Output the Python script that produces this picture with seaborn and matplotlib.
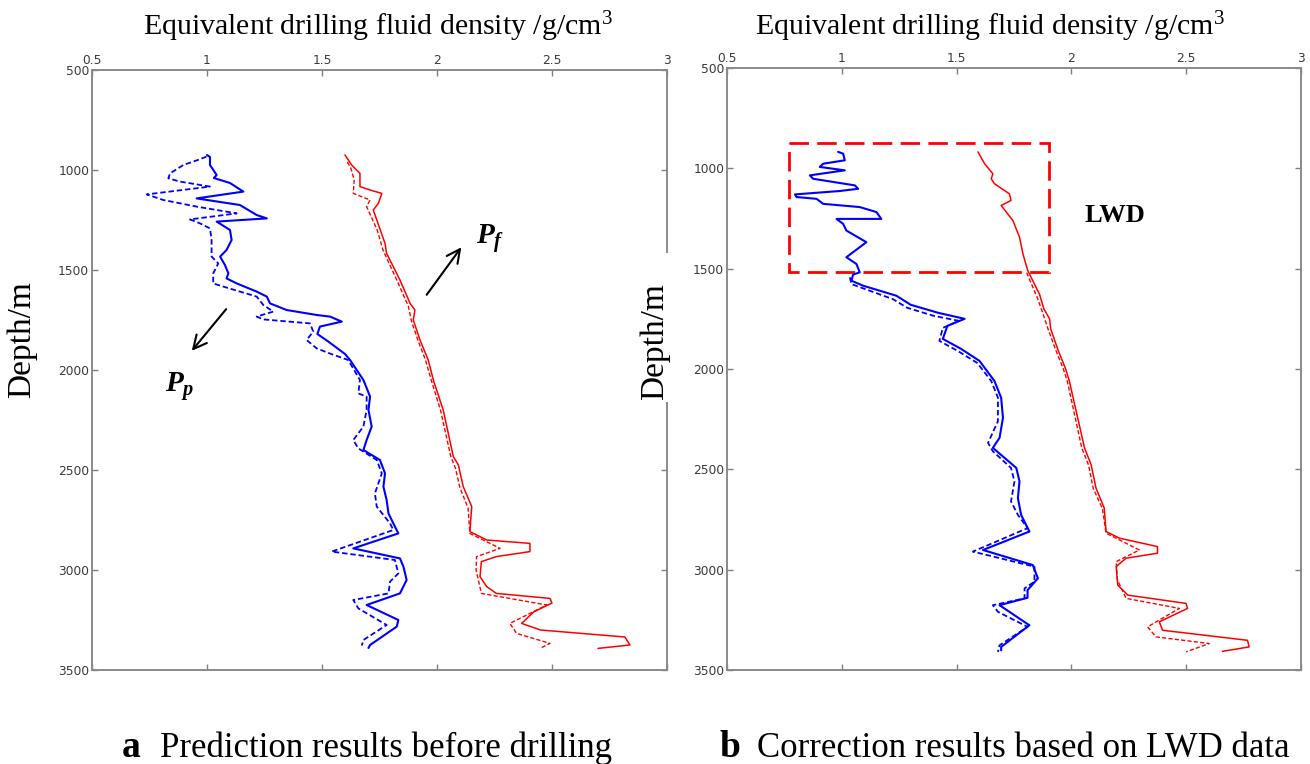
import matplotlib
matplotlib.use("Agg")
import matplotlib.pyplot as plt
from matplotlib.patches import Rectangle
import seaborn as sns
import numpy as np

# ---------------- data ----------------
# Panel a: prediction before drilling
A_PP_SOLID_X = [1.000, 1.013, 1.013, 1.042, 1.030, 1.100, 1.158, 0.955, 1.000, 1.143, 1.216, 1.260, 1.042, 1.100,
                1.107, 1.085, 1.057, 1.078, 1.093, 1.085, 1.129, 1.216, 1.260, 1.274, 1.346, 1.477, 1.535, 1.586,
                1.491, 1.480, 1.530, 1.600, 1.622, 1.680, 1.709, 1.702, 1.716, 1.694, 1.680, 1.752, 1.774, 1.767,
                1.781, 1.789, 1.817, 1.832, 1.636, 1.839, 1.854, 1.868, 1.839, 1.694, 1.832, 1.825, 1.709, 1.702]
A_PP_SOLID_D = [925, 935, 975, 1025, 1040, 1065, 1108, 1142, 1150, 1175, 1225, 1242, 1258, 1300,
                1350, 1400, 1433, 1475, 1517, 1542, 1567, 1608, 1633, 1667, 1700, 1725, 1733, 1758,
                1783, 1820, 1860, 1920, 1950, 2050, 2133, 2200, 2283, 2350, 2400, 2450, 2517, 2583,
                2650, 2717, 2783, 2817, 2892, 2942, 2983, 3050, 3117, 3175, 3250, 3283, 3375, 3390]

A_PP_DASH_X = [0.998, 0.960, 0.897, 0.839, 0.832, 0.883, 1.013, 0.738, 0.810, 0.955, 1.129, 0.926, 0.970, 1.013,
               1.020, 1.020, 1.049, 1.027, 1.027, 1.071, 1.216, 1.245, 1.288, 1.216, 1.245, 1.448, 1.462, 1.433,
               1.477, 1.540, 1.614, 1.665, 1.658, 1.694, 1.694, 1.680, 1.636, 1.658, 1.738, 1.760, 1.730, 1.738,
               1.796, 1.810, 1.542, 1.817, 1.832, 1.796, 1.789, 1.636, 1.658, 1.781, 1.680, 1.673]
A_PP_DASH_D = [933, 950, 975, 1017, 1042, 1058, 1083, 1122, 1150, 1183, 1217, 1247, 1267, 1292,
               1350, 1433, 1467, 1517, 1567, 1583, 1633, 1675, 1708, 1733, 1747, 1767, 1808, 1850,
               1892, 1920, 1950, 2050, 2117, 2133, 2200, 2283, 2350, 2392, 2450, 2517, 2617, 2683,
               2767, 2800, 2908, 2950, 3017, 3058, 3117, 3150, 3192, 3275, 3350, 3378]

A_PF_SOLID_X = [1.600, 1.629, 1.665, 1.665, 1.709, 1.760, 1.745, 1.723, 1.774, 1.781, 1.839, 1.883, 1.904, 1.897,
                1.926, 1.962, 1.984, 2.027, 2.071, 2.093, 2.114, 2.151, 2.143, 2.216, 2.404, 2.404, 2.258, 2.193,
                2.187, 2.216, 2.258, 2.491, 2.500, 2.420, 2.368, 2.450, 2.817, 2.839, 2.700]
A_PF_SOLID_D = [925, 975, 1017, 1083, 1100, 1117, 1167, 1200, 1367, 1417, 1550, 1667, 1700, 1750,
                1850, 1950, 2050, 2200, 2433, 2475, 2583, 2683, 2808, 2850, 2867, 2908, 2933, 2958,
                3033, 3083, 3117, 3142, 3165, 3210, 3267, 3300, 3335, 3375, 3392]

A_PF_DASH_X = [1.610, 1.625, 1.640, 1.636, 1.709, 1.694, 1.740, 1.765, 1.825, 1.875, 1.890, 1.920, 1.950, 1.975,
               2.015, 2.060, 2.080, 2.100, 2.135, 2.143, 2.274, 2.172, 2.170, 2.193, 2.477, 2.317, 2.346, 2.491, 2.448]
A_PF_DASH_D = [960, 990, 1050, 1117, 1150, 1183, 1300, 1400, 1550, 1680, 1760, 1860, 1950, 2050,
               2200, 2433, 2490, 2590, 2690, 2817, 2892, 2933, 3000, 3117, 3175, 3267, 3317, 3367, 3392]

# Panel b: corrected with LWD data
B_PP_SOLID_X = [0.984, 1.006, 1.013, 0.919, 0.904, 1.013, 0.861, 0.875, 1.057, 1.071, 0.991, 0.796, 0.803, 0.890,
                0.919, 1.078, 1.151, 1.172, 0.977, 1.006, 1.020, 1.107, 1.020, 1.064, 1.078, 1.049, 1.042, 1.093,
                1.238, 1.300, 1.420, 1.535, 1.460, 1.440, 1.520, 1.600, 1.665, 1.694, 1.702, 1.687, 1.658, 1.760,
                1.774, 1.767, 1.781, 1.817, 1.615, 1.832, 1.854, 1.809, 1.809, 1.687, 1.817, 1.694, 1.694]
B_PP_SOLID_D = [918, 927, 960, 977, 993, 1010, 1035, 1052, 1085, 1102, 1113, 1130, 1143, 1152,
                1177, 1193, 1218, 1252, 1252, 1277, 1310, 1368, 1443, 1477, 1518, 1530, 1560, 1585,
                1635, 1680, 1720, 1750, 1785, 1850, 1900, 1960, 2060, 2143, 2243, 2343, 2393, 2493,
                2560, 2643, 2727, 2810, 2902, 2977, 3043, 3102, 3140, 3177, 3277, 3385, 3402]

B_PP_DASH_X = [1.035, 1.042, 1.223, 1.285, 1.400, 1.510, 1.440, 1.425, 1.505, 1.590, 1.651, 1.680, 1.680, 1.637,
               1.658, 1.737, 1.752, 1.737, 1.767, 1.809, 1.571, 1.839, 1.839, 1.796, 1.796, 1.658, 1.680, 1.809,
               1.687, 1.680]
B_PP_DASH_D = [1543, 1577, 1652, 1695, 1735, 1760, 1795, 1860, 1910, 1970, 2060, 2143, 2260, 2368,
               2410, 2493, 2560, 2660, 2727, 2793, 2910, 2985, 3060, 3093, 3143, 3177, 3210, 3285,
               3377, 3410]

B_PF_SOLID_X = [1.593, 1.622, 1.658, 1.651, 1.665, 1.730, 1.737, 1.694, 1.745, 1.774, 1.789, 1.810, 1.861, 1.880,
                1.905, 1.910, 1.940, 1.975, 1.991, 2.057, 2.086, 2.107, 2.143, 2.151, 2.209, 2.375, 2.375, 2.238,
                2.195, 2.202, 2.246, 2.499, 2.506, 2.383, 2.397, 2.767, 2.774, 2.658]
B_PF_SOLID_D = [918, 977, 1027, 1052, 1077, 1127, 1160, 1185, 1260, 1343, 1427, 1510, 1627, 1700,
                1750, 1800, 1900, 2000, 2060, 2393, 2477, 2593, 2693, 2810, 2843, 2885, 2918, 2943,
                2985, 3077, 3127, 3168, 3193, 3260, 3302, 3352, 3385, 3407]

B_PF_DASH_X = [1.805, 1.850, 1.875, 1.895, 1.930, 1.965, 1.982, 2.045, 2.075, 2.095, 2.135, 2.151, 2.296, 2.195,
               2.200, 2.238, 2.470, 2.332, 2.368, 2.600, 2.499]
B_PF_DASH_D = [1520, 1640, 1720, 1790, 1900, 2000, 2060, 2393, 2480, 2595, 2695, 2818, 2902, 2960,
               3050, 3143, 3193, 3285, 3335, 3368, 3410]

X_TICKS = [0.5, 1.0, 1.5, 2.0, 2.5, 3.0]
X_TICK_LABELS = ["0.5", "1", "1.5", "2", "2.5", "3"]
Y_TICKS = [500, 1000, 1500, 2000, 2500, 3000, 3500]
Y_TICK_LABELS = ["500", "1000", "1500", "2000", "2500", "3000", "3500"]

X_LABEL = "Equivalent drilling fluid density /g/cm$^{3}$"
Y_LABEL = "Depth/m"
CAPTIONS = [("a", "Prediction results before drilling"), ("b", "Correction results based on LWD data")]

# ---------------- style ----------------
sns.set_style("white")
plt.rcParams["font.family"] = ["Liberation Serif", "DejaVu Serif"]
plt.rcParams["text.color"] = "black"
plt.rcParams["mathtext.fontset"] = "custom"
plt.rcParams["mathtext.rm"] = "Liberation Serif"
plt.rcParams["mathtext.it"] = "Liberation Serif:italic:bold"
plt.rcParams["mathtext.bf"] = "Liberation Serif:bold"

W, H = 1310, 764
fig = plt.figure(figsize=(W / 100, H / 100), dpi=100)

def fx(px):
    return px / W

def fy(py):
    return 1 - py / H

ax_a = fig.add_axes([fx(92), fy(670), fx(667) - fx(92), fy(70) - fy(670)])
ax_b = fig.add_axes([fx(727), fy(670), fx(1301) - fx(727), fy(68) - fy(670)])

BLUE = "#0000ff"
RED = "#ff0000"

def draw_panel(ax, pp_s, pp_d, pf_s, pf_d):
    sns.lineplot(x=pp_s[0], y=pp_s[1], sort=False, estimator=None, ax=ax,
                 color=BLUE, lw=1.5, linestyle="-")
    sns.lineplot(x=pp_d[0], y=pp_d[1], sort=False, estimator=None, ax=ax,
                 color=BLUE, lw=1.3, linestyle=(0, (3, 1.6)))
    sns.lineplot(x=pf_s[0], y=pf_s[1], sort=False, estimator=None, ax=ax,
                 color=RED, lw=1.1, linestyle="-")
    sns.lineplot(x=pf_d[0], y=pf_d[1], sort=False, estimator=None, ax=ax,
                 color=RED, lw=1.0, linestyle=(0, (3, 1.6)))
    ax.set_xlim(0.5, 3.0)
    ax.set_ylim(3500, 500)
    ax.set_xticks(X_TICKS)
    ax.set_xticklabels(X_TICK_LABELS)
    ax.set_yticks(Y_TICKS)
    ax.set_yticklabels(Y_TICK_LABELS)
    ax.set_xlabel("")
    ax.set_ylabel("")
    ax.tick_params(direction="in", top=True, bottom=True, left=True, right=True,
                   labeltop=True, labelbottom=False, length=4, width=1.0,
                   color="#808080", labelsize=8.8, labelcolor="#3a3a3a", pad=2)
    for lab in ax.get_xticklabels() + ax.get_yticklabels():
        lab.set_fontfamily("DejaVu Sans")
    for sp in ax.spines.values():
        sp.set_color("#8a8a8a")
        sp.set_linewidth(1.4)
    if ax.get_legend():
        ax.get_legend().remove()

draw_panel(ax_a, (A_PP_SOLID_X, A_PP_SOLID_D), (A_PP_DASH_X, A_PP_DASH_D),
           (A_PF_SOLID_X, A_PF_SOLID_D), (A_PF_DASH_X, A_PF_DASH_D))
draw_panel(ax_b, (B_PP_SOLID_X, B_PP_SOLID_D), (B_PP_DASH_X, B_PP_DASH_D),
           (B_PF_SOLID_X, B_PF_SOLID_D), (B_PF_DASH_X, B_PF_DASH_D))

# annotations panel a
arrow = dict(arrowstyle="->", lw=1.5, color="black", mutation_scale=24)
ax_a.annotate("", xy=(0.926, 1915), xytext=(1.091, 1685), arrowprops=arrow)
ax_a.annotate("", xy=(2.113, 1375), xytext=(1.948, 1635), arrowprops=arrow)
ax_a.text(0.88, 2080, "$P_p$", fontsize=21, ha="center", va="center")
ax_a.text(2.23, 1340, "$P_f$", fontsize=21, ha="center", va="center")

# annotations panel b
ax_b.add_patch(Rectangle((0.77, 875), 1.904 - 0.77, 1515 - 875, fill=False,
                         edgecolor=RED, lw=2.0, linestyle=(0, (7, 3))))
ax_b.text(2.19, 1235, "LWD", fontsize=19, fontweight="bold", ha="center", va="center")

# axis titles
for cx in (378, 990):
    fig.text(fx(cx), fy(27), X_LABEL, fontsize=21.5, ha="center", va="center")

fig.text(fx(22), fy(340), Y_LABEL, fontsize=24, rotation=90, ha="center", va="center")
# white patch (the right panel's label hides part of the left panel's frame)
fig.add_artist(Rectangle((fx(638), fy(402)), fx(673) - fx(638), fy(253) - fy(402),
                         transform=fig.transFigure, facecolor="white", edgecolor="none", zorder=5))
fig.text(fx(655), fy(342), Y_LABEL, fontsize=24, rotation=90, ha="center", va="center", zorder=6)

# captions
fig.text(fx(122), fy(757), CAPTIONS[0][0], fontsize=27, fontweight="bold", ha="left", va="baseline")
fig.text(fx(160), fy(757), CAPTIONS[0][1], fontsize=25, ha="left", va="baseline")
fig.text(fx(720), fy(757), CAPTIONS[1][0], fontsize=27, fontweight="bold", ha="left", va="baseline")
fig.text(fx(757), fy(757), CAPTIONS[1][1], fontsize=25, ha="left", va="baseline")

fig.savefig("out.png", dpi=100)
